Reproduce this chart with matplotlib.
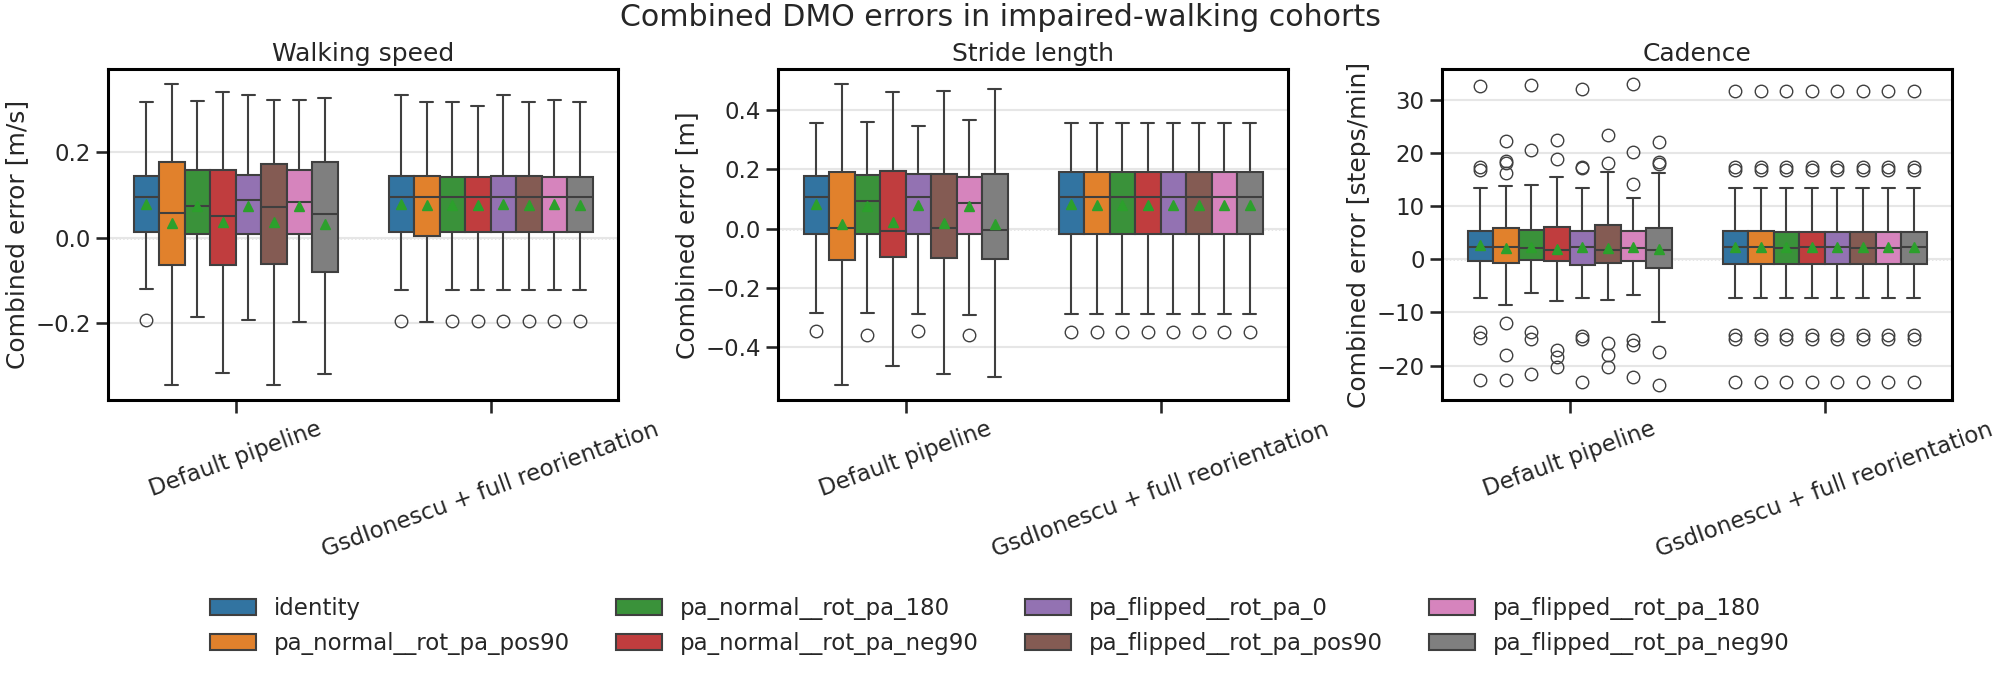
import matplotlib
matplotlib.use("Agg")
import matplotlib.pyplot as plt
from matplotlib.patches import Patch
import seaborn as sns

sns.set_context("talk")
sns.set_style("ticks")
plt.rcParams["axes.edgecolor"] = "black"
plt.rcParams["axes.linewidth"] = 2.2

pipelines = ["Default pipeline", "GsdIonescu + full reorientation"]
orientations = [
    "identity",
    "pa_normal__rot_pa_pos90",
    "pa_normal__rot_pa_180",
    "pa_normal__rot_pa_neg90",
    "pa_flipped__rot_pa_0",
    "pa_flipped__rot_pa_pos90",
    "pa_flipped__rot_pa_180",
    "pa_flipped__rot_pa_neg90",
]

# walking speed [m/s]: one row per pipeline, one value per orientation
ws_lo = [[-0.121, -0.345, -0.185, -0.315, -0.193, -0.345, -0.198, -0.318],
         [-0.123, -0.197, -0.123, -0.123, -0.122, -0.122, -0.122, -0.122]]
ws_q1 = [[0.012, -0.065, 0.008, -0.065, 0.009, -0.061, 0.008, -0.081],
         [0.012, 0.003, 0.012, 0.012, 0.012, 0.012, 0.012, 0.012]]
ws_med = [[0.094, 0.058, 0.075, 0.051, 0.089, 0.072, 0.084, 0.056],
          [0.094, 0.094, 0.094, 0.094, 0.094, 0.094, 0.094, 0.094]]
ws_mean = [[0.079, 0.035, 0.074, 0.037, 0.075, 0.037, 0.073, 0.031],
           [0.079, 0.077, 0.077, 0.077, 0.079, 0.077, 0.079, 0.077]]
ws_q3 = [[0.144, 0.177, 0.159, 0.159, 0.146, 0.172, 0.159, 0.177],
         [0.144, 0.144, 0.142, 0.142, 0.144, 0.144, 0.142, 0.142]]
ws_hi = [[0.317, 0.358, 0.319, 0.340, 0.332, 0.322, 0.322, 0.327],
         [0.332, 0.317, 0.317, 0.308, 0.332, 0.317, 0.322, 0.317]]
ws_fliers = [[[-0.193], [], [], [], [], [], [], []],
             [[-0.195], [], [-0.195], [-0.195], [-0.195], [-0.195], [-0.195], [-0.195]]]

# stride length [m]
sl_lo = [[-0.283, -0.528, -0.283, -0.464, -0.287, -0.489, -0.290, -0.499],
         [-0.287] * 8]
sl_q1 = [[-0.017, -0.104, -0.017, -0.094, -0.017, -0.098, -0.017, -0.101],
         [-0.017] * 8]
sl_med = [[0.106, 0.004, 0.094, -0.007, 0.106, 0.003, 0.088, -0.003],
          [0.106] * 8]
sl_mean = [[0.084, 0.017, 0.076, 0.024, 0.081, 0.020, 0.076, 0.017],
           [0.083, 0.081, 0.081, 0.081, 0.081, 0.081, 0.081, 0.081]]
sl_q3 = [[0.178, 0.191, 0.181, 0.194, 0.184, 0.184, 0.174, 0.184],
         [0.191] * 8]
sl_hi = [[0.358, 0.487, 0.361, 0.461, 0.346, 0.465, 0.366, 0.472],
         [0.358] * 8]
sl_fliers = [[[-0.344], [], [-0.357], [], [-0.344], [], [-0.357], []],
             [[-0.347]] * 8]

# cadence [steps/min]
cad_lo = [[-7.3, -8.5, -6.3, -7.8, -7.3, -7.6, -6.7, -11.8],
          [-7.3] * 8]
cad_q1 = [[-0.25, -0.6, -0.1, -0.4, -1.1, -0.75, -0.25, -1.7],
          [-0.9] * 8]
cad_med = [[2.4, 2.3, 2.1, 1.75, 2.3, 1.75, 2.1, 1.75],
           [2.4, 2.4, 2.1, 2.4, 2.4, 2.1, 2.1, 2.4]]
cad_mean = [[2.7, 2.1, 2.3, 1.9, 2.4, 2.2, 2.4, 1.9],
            [2.4] * 8]
cad_q3 = [[5.4, 5.9, 5.6, 6.1, 5.4, 6.4, 5.4, 5.9],
          [5.4, 5.4, 5.2, 5.2, 5.2, 5.2, 5.2, 5.2]]
cad_hi = [[13.5, 13.7, 14.0, 15.5, 13.5, 16.5, 11.6, 16.2],
          [13.5] * 8]
cad_fliers = [[[32.6, 17.4, 16.8, -13.6, -14.8, -22.7],
               [22.2, 18.5, 18.2, 16.2, -12.0, -18.0, -22.7],
               [32.7, 20.5, -13.6, -15.0, -21.5],
               [22.4, 18.8, -17.0, -18.3, -20.3],
               [32.1, 17.4, 17.1, -14.4, -14.9, -23.1],
               [23.3, 18.2, -15.8, -18.0, -20.3],
               [32.9, 20.1, 14.2, -15.2, -16.2, -22.2],
               [22.0, 18.3, 18.0, -17.4, -23.7]],
              [[31.6, 17.4, 16.8, -14.2, -14.9, -23.1]] * 8]

panels = [
    ("Walking speed", "Combined error [m/s]", [-0.2, 0.0, 0.2],
     ws_lo, ws_q1, ws_med, ws_mean, ws_q3, ws_hi, ws_fliers),
    ("Stride length", "Combined error [m]", [-0.4, -0.2, 0.0, 0.2, 0.4],
     sl_lo, sl_q1, sl_med, sl_mean, sl_q3, sl_hi, sl_fliers),
    ("Cadence", "Combined error [steps/min]", [-20, -10, 0, 10, 20, 30],
     cad_lo, cad_q1, cad_med, cad_mean, cad_q3, cad_hi, cad_fliers),
]

colors = [sns.desaturate(c, 0.75) for c in plt.get_cmap("tab10").colors[:8]]
edge = "#3f3f3f"
n_hue = len(orientations)
box_w = 0.8 / n_hue

fig = plt.figure(figsize=(20, 7), dpi=100)
lefts = [0.054, 0.389, 0.721]

for k, (title, ylabel, yticks, lo, q1, med, mean, q3, hi, fliers) in enumerate(panels):
    ax = fig.add_axes([lefts[k], 0.428, 0.255, 0.473])
    for i in range(len(pipelines)):
        for j in range(n_hue):
            st = dict(whislo=lo[i][j], q1=q1[i][j], med=med[i][j], mean=mean[i][j],
                      q3=q3[i][j], whishi=hi[i][j], fliers=fliers[i][j])
            pos = i - 0.4 + box_w / 2 + j * box_w
            ax.bxp([st], positions=[pos], widths=box_w, capwidths=box_w / 2,
                   patch_artist=True, showmeans=True, manage_ticks=False,
                   boxprops=dict(facecolor=colors[j], edgecolor=edge, linewidth=1.5),
                   medianprops=dict(color=edge, linewidth=1.5),
                   whiskerprops=dict(color=edge, linewidth=1.5),
                   capprops=dict(color=edge, linewidth=1.5),
                   flierprops=dict(marker="o", markerfacecolor="none",
                                   markeredgecolor=edge, markersize=9, linewidth=0),
                   meanprops=dict(marker="^", markerfacecolor="#2ca02c",
                                  markeredgecolor="#2ca02c", markersize=7))
    ax.axhline(0, color="gray", linestyle=":", linewidth=1, zorder=0)
    ax.grid(axis="y", color="#e6e6e6", linewidth=1.5)
    ax.set_axisbelow(True)
    ax.set_xlim(-0.5, 1.5)
    ax.set_xticks([0, 1])
    ax.set_xticklabels(pipelines, rotation=20)
    ax.set_yticks(yticks)
    ax.set_title(title)
    ax.set_ylabel(ylabel)

handles = [Patch(facecolor=c, edgecolor=edge, linewidth=1.5) for c in colors]
fig.legend(handles, orientations, loc="upper center", bbox_to_anchor=(0.5, 0.176),
           ncol=4, frameon=False)
fig.suptitle("Combined DMO errors in impaired-walking cohorts", y=0.995)

fig.savefig("out.png", dpi=100)
